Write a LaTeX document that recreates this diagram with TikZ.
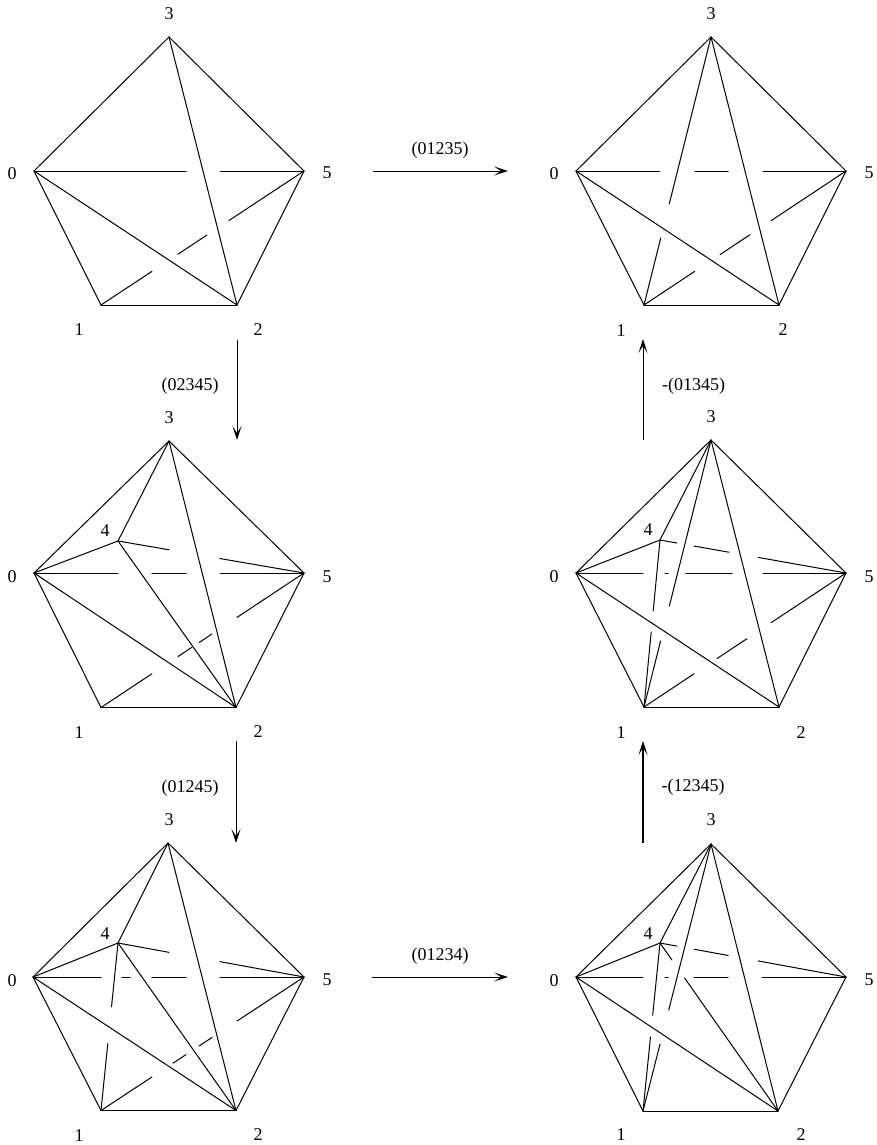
\documentclass[tikz,border=0pt]{standalone}
\usepackage{fontspec}
\setmainfont{Liberation Serif}
\usetikzlibrary{calc,arrows.meta}
\tikzset{
  edge/.style={line width=1pt,line cap=round},
  flow/.style={line width=1pt,-{Stealth[length=14pt,width=9pt,inset=7pt]}},
  vlabel/.style={inner sep=0pt,font=\fontsize{18}{18}\selectfont},
  alabel/.style={inner sep=0pt,font=\fontsize{18}{18}\selectfont}
}
% full edge between two named vertices
\newcommand{\full}[2]{\draw[edge] (#1) -- (#2);}
% portion of an edge between two fractions
\newcommand{\seg}[4]{\draw[edge] ($(#1)!#3!(#2)$) -- ($(#1)!#4!(#2)$);}
\begin{document}
\begin{tikzpicture}[x=1pt,y=-1pt]
\useasboundingbox (0,0) rectangle (876,1145);
% ---------- Panel A : top left
\coordinate (a0) at (34,171); \coordinate (a1) at (101,305); \coordinate (a2) at (237,305);
\coordinate (a3) at (169,37); \coordinate (a5) at (304,171);
\node[vlabel] (la0) at (12,174) {0}; \node[vlabel] (la1) at (79,330) {1}; \node[vlabel] (la2) at (258,330) {2};
\node[vlabel] (la3) at (169,14) {3}; \node[vlabel] (la5) at (327,173) {5};
\full{a0}{a3}\full{a3}{a5}\full{a5}{a2}\full{a2}{a1}\full{a1}{a0}\full{a0}{a2}\full{a3}{a2}
\seg{a0}{a5}{0}{.563}\seg{a0}{a5}{.689}{1}
\seg{a1}{a5}{0}{.251}\seg{a1}{a5}{.379}{.522}\seg{a1}{a5}{.631}{1}
% ---------- Panel B : top right
\coordinate (b0) at (576,171); \coordinate (b1) at (644,305); \coordinate (b2) at (779,305);
\coordinate (b3) at (711,37); \coordinate (b5) at (846,171);
\node[vlabel] (lb0) at (554,174) {0}; \node[vlabel] (lb1) at (621,331) {1}; \node[vlabel] (lb2) at (783,330) {2};
\node[vlabel] (lb3) at (711,14) {3}; \node[vlabel] (lb5) at (869,173) {5};
\full{b0}{b3}\full{b3}{b5}\full{b5}{b2}\full{b2}{b1}\full{b1}{b0}\full{b0}{b2}\full{b3}{b2}
\seg{b0}{b5}{0}{.311}\seg{b0}{b5}{.441}{.563}\seg{b0}{b5}{.693}{1}
\seg{b1}{b5}{0}{.251}\seg{b1}{b5}{.376}{.525}\seg{b1}{b5}{.629}{1}
\seg{b1}{b3}{0}{.25}\seg{b1}{b3}{.377}{1}
% ---------- Panel C : middle left
\coordinate (c0) at (34,573); \coordinate (c1) at (101,707.5); \coordinate (c2) at (236,707.5);
\coordinate (c3) at (169,441); \coordinate (c4) at (118,541); \coordinate (c5) at (304,573);
\node[vlabel] (lc0) at (12,577) {0}; \node[vlabel] (lc1) at (79,733) {1}; \node[vlabel] (lc2) at (258,732) {2};
\node[vlabel] (lc3) at (169,418) {3}; \node[vlabel] (lc4) at (105,531) {4}; \node[vlabel] (lc5) at (327,577) {5};
\full{c0}{c3}\full{c3}{c5}\full{c5}{c2}\full{c2}{c1}\full{c1}{c0}\full{c0}{c2}\full{c3}{c2}
\full{c0}{c4}\full{c4}{c3}\full{c4}{c2}
\seg{c4}{c5}{0}{.274}\seg{c4}{c5}{.548}{1}
\seg{c0}{c5}{0}{.311}\seg{c0}{c5}{.437}{.563}\seg{c0}{c5}{.689}{1}
\seg{c1}{c5}{0}{.251}\seg{c1}{c5}{.379}{.448}\seg{c1}{c5}{.483}{.547}\seg{c1}{c5}{.670}{1}
% ---------- Panel D : middle right
\coordinate (d0) at (576,573); \coordinate (d1) at (644,707); \coordinate (d2) at (779,707);
\coordinate (d3) at (711,440); \coordinate (d4) at (660,540); \coordinate (d5) at (846,573);
\node[vlabel] (ld0) at (554,577) {0}; \node[vlabel] (ld1) at (621,733) {1}; \node[vlabel] (ld2) at (801,733) {2};
\node[vlabel] (ld3) at (711,417) {3}; \node[vlabel] (ld4) at (648,530) {4}; \node[vlabel] (ld5) at (869,577) {5};
\full{d0}{d3}\full{d3}{d5}\full{d5}{d2}\full{d2}{d1}\full{d1}{d0}\full{d0}{d2}\full{d3}{d2}
\full{d0}{d4}\full{d4}{d3}
\seg{d1}{d3}{0}{.247}\seg{d1}{d3}{.378}{1}
\seg{d4}{d1}{0}{.425}\seg{d4}{d1}{.551}{1}
\seg{d4}{d5}{0}{.091}\seg{d4}{d5}{.183}{.371}\seg{d4}{d5}{.527}{1}
\seg{d0}{d5}{0}{.248}\seg{d0}{d5}{.330}{.341}\seg{d0}{d5}{.407}{.578}\seg{d0}{d5}{.693}{1}
\seg{d1}{d5}{0}{.248}\seg{d1}{d5}{.361}{.510}\seg{d1}{d5}{.629}{1}
% ---------- Panel E : bottom left
\coordinate (e0) at (33,977); \coordinate (e1) at (101,1110.5); \coordinate (e2) at (236,1110.5);
\coordinate (e3) at (168,843); \coordinate (e4) at (118,943); \coordinate (e5) at (304,977);
\node[vlabel] (le0) at (12,981) {0}; \node[vlabel] (le1) at (79,1136) {1}; \node[vlabel] (le2) at (258,1135) {2};
\node[vlabel] (le3) at (169,820) {3}; \node[vlabel] (le4) at (105,934) {4}; \node[vlabel] (le5) at (327,980) {5};
\full{e0}{e3}\full{e3}{e5}\full{e5}{e2}\full{e2}{e1}\full{e1}{e0}\full{e0}{e2}\full{e3}{e2}
\full{e0}{e4}\full{e4}{e3}\full{e4}{e2}
\seg{e4}{e1}{0}{.381}\seg{e4}{e1}{.601}{1}
\seg{e4}{e5}{0}{.274}\seg{e4}{e5}{.548}{1}
\seg{e0}{e5}{0}{.251}\seg{e0}{e5}{.328}{.358}\seg{e0}{e5}{.439}{.565}\seg{e0}{e5}{.690}{1}
\seg{e1}{e5}{0}{.251}\seg{e1}{e5}{.355}{.419}\seg{e1}{e5}{.483}{.547}\seg{e1}{e5}{.670}{1}
% ---------- Panel F : bottom right
\coordinate (f0) at (576,977); \coordinate (f1) at (643,1111); \coordinate (f2) at (778,1111);
\coordinate (f3) at (711,844); \coordinate (f4) at (660,943); \coordinate (f5) at (846,977);
\node[vlabel] (lf0) at (554,981) {0}; \node[vlabel] (lf1) at (621,1135) {1}; \node[vlabel] (lf2) at (801,1135) {2};
\node[vlabel] (lf3) at (711,820) {3}; \node[vlabel] (lf4) at (648,934) {4}; \node[vlabel] (lf5) at (869,980) {5};
\full{f0}{f3}\full{f3}{f5}\full{f5}{f2}\full{f2}{f1}\full{f1}{f0}\full{f0}{f2}\full{f3}{f2}
\full{f0}{f4}\full{f4}{f3}
\seg{f1}{f3}{0}{.251}\seg{f1}{f3}{.378}{1}
\seg{f4}{f1}{0}{.429}\seg{f4}{f1}{.56}{1}
\seg{f4}{f5}{0}{.091}\seg{f4}{f5}{.183}{.366}\seg{f4}{f5}{.527}{1}
\seg{f4}{f2}{0}{.101}\seg{f4}{f2}{.208}{1}
\seg{f0}{f5}{0}{.248}\seg{f0}{f5}{.330}{.341}\seg{f0}{f5}{.437}{.563}\seg{f0}{f5}{.689}{1}
% ---------- Arrows between panels
\coordinate (ab1) at (373,171); \coordinate (ab2) at (508,171);
\coordinate (ac1) at (237,340); \coordinate (ac2) at (237,440);
\coordinate (ce1) at (236,741); \coordinate (ce2) at (236,843);
\coordinate (ef1) at (372,977); \coordinate (ef2) at (508,977);
\coordinate (fd1) at (643,843); \coordinate (fd2) at (643,741);
\coordinate (db1) at (643,440); \coordinate (db2) at (643,339);
\draw[flow] (ab1) -- (ab2);
\draw[flow] (ac1) -- (ac2);
\draw[flow] (ce1) -- (ce2);
\draw[flow] (ef1) -- (ef2);
\draw[flow,line width=1.3pt] (fd1) -- (fd2);
\draw[flow] (db1) -- (db2);
\node[alabel] (tab) at (440,150.5) {(01235)};
\node[alabel] (tac) at (190,386.5) {(02345)};
\node[alabel] (tce) at (190,788.5) {(01245)};
\node[alabel] (tef) at (440,956.5) {(01234)};
\node[alabel] (tfd) at (693,787.5) {-(12345)};
\node[alabel] (tdb) at (693.5,386.5) {-(01345)};
\end{tikzpicture}
\end{document}
